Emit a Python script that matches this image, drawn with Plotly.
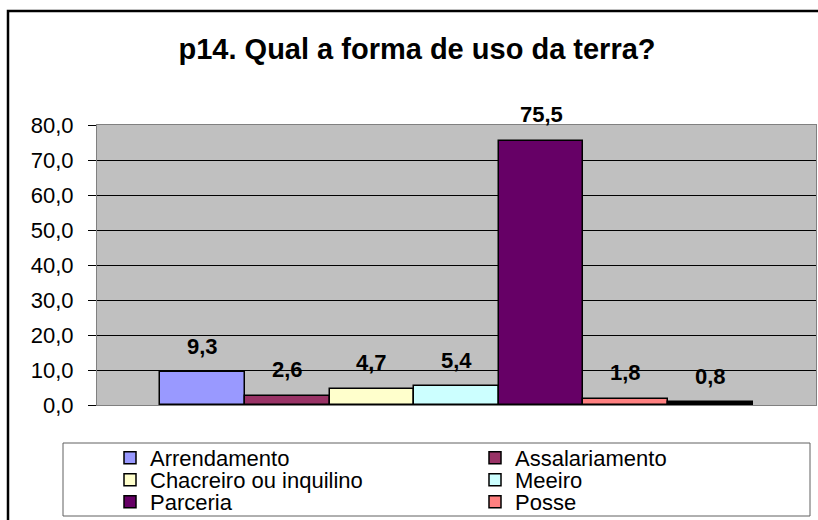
import plotly.graph_objects as go

TITLE = 'p14. Qual a forma de uso da terra?'
CATEGORIES = ['Arrendamento', 'Assalariamento', 'Chacreiro ou inquilino', 'Meeiro',
              'Parceria', 'Posse', 'Outros']
VALUES = [9.3, 2.6, 4.7, 5.4, 75.5, 1.8, 0.8]
COLORS = ['#9999FF', '#993366', '#FFFFCC', '#CCFFFF', '#660066', '#FF8080', '#000000']
IN_LEGEND = [True, True, True, True, True, True, False]  # last entry is cut off in the original
Y_TICKS = [0, 10, 20, 30, 40, 50, 60, 70, 80]

FONT = 'Liberation Sans, Arial, sans-serif'
W, H = 818, 520
M = dict(l=97, r=2, t=125, b=115)
PW = W - M['l'] - M['r']
PH = H - M['t'] - M['b']


def px_x(x):
    return (x - M['l']) / PW


def px_y(y):
    return (H - M['b'] - y) / PH


def comma(v):
    return f'{v:.1f}'.replace('.', ',')


def legend_key(n):
    return 'legend' if n == 0 else f'legend{n + 1}'


fig = go.Figure()
for i, (cat, val, col) in enumerate(zip(CATEGORIES, VALUES, COLORS)):
    fig.add_trace(go.Bar(
        x=[cat], y=[val], name=cat,
        marker=dict(color=col, line=dict(color='#000000', width=1.5)),
        showlegend=IN_LEGEND[i],
        legend=legend_key(min(i, 5)),
        hoverinfo='x+y',
    ))
    fig.add_annotation(
        x=cat, y=val, text=comma(val), showarrow=False,
        yanchor='middle', yshift=26,
        font=dict(family=FONT, size=22, color='#000000', weight='bold'),
    )

# legend laid out in two columns and three rows, one small legend per entry
col_left = [110, 475]
row_centers = [458, 480, 502]
legends = {}
for n in range(6):
    legends[legend_key(n)] = dict(
        orientation='h', x=px_x(col_left[n % 2]), xanchor='left',
        y=px_y(row_centers[n // 2]), yanchor='middle',
        bgcolor='rgba(0,0,0,0)', borderwidth=0,
        font=dict(family=FONT, size=22, color='#000000'),
    )

fig.update_layout(
    width=W, height=H, margin=dict(M, autoexpand=False),
    paper_bgcolor='#FFFFFF', plot_bgcolor='#C0C0C0',
    barmode='overlay', bargap=0,
    separators=',.',
    title=dict(text=TITLE, x=417 / W, xanchor='center', xref='container',
               y=1 - 49 / H, yanchor='middle', yref='container',
               font=dict(family=FONT, size=29, color='#000000', weight='bold')),
    xaxis=dict(type='category', categoryorder='array', categoryarray=CATEGORIES,
               range=[-1.25, len(CATEGORIES) + 0.25], showticklabels=False,
               ticks='', showgrid=False, zeroline=False,
               showline=True, linecolor='#808080', linewidth=1, mirror=True),
    yaxis=dict(range=[0, 80], tickvals=Y_TICKS, tickformat='.1f',
               ticks='outside', ticklen=8, tickcolor='#000000', tickwidth=1,
               ticklabelstandoff=10,
               showgrid=True, gridcolor='#000000', gridwidth=1, zeroline=False,
               showline=True, linecolor='#808080', linewidth=1, mirror=True,
               tickfont=dict(family=FONT, size=22, color='#000000')),
    shapes=[
        # legend frame
        dict(type='rect', xref='paper', yref='paper',
             x0=px_x(63), x1=px_x(810), y0=px_y(516), y1=px_y(443),
             line=dict(color='#606060', width=1), layer='below'),
        # chart border (only left and top are inside the picture)
        dict(type='rect', xref='paper', yref='paper',
             x0=px_x(8), x1=px_x(840), y0=px_y(560), y1=px_y(11),
             line=dict(color='#000000', width=2.5), layer='above'),
    ],
    **legends,
)

fig.write_html('out.html', config={'displayModeBar': False},
               post_script="document.body.style.margin='0';")
